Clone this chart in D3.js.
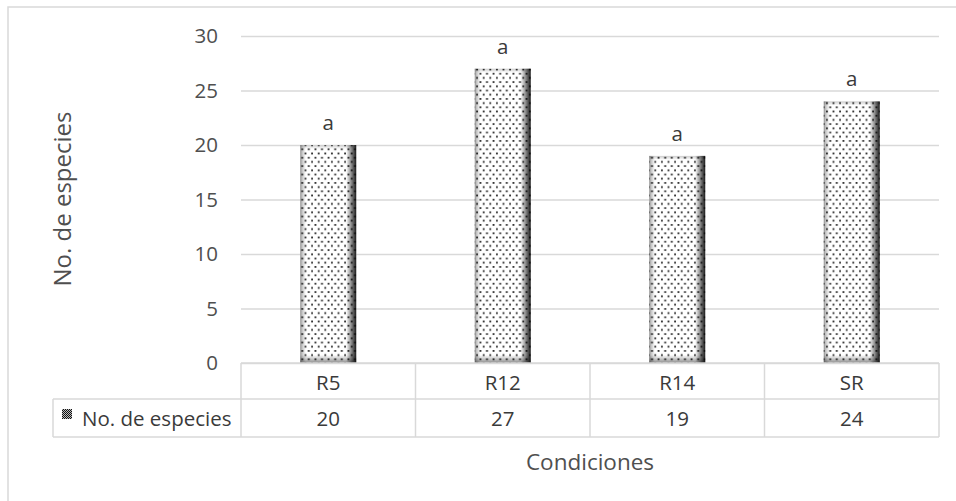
<!DOCTYPE html>
<html>
<head>
<meta charset="utf-8">
<script src="https://cdn.jsdelivr.net/npm/d3@7"></script>
<style>
  html, body { margin: 0; padding: 0; background: #fff; }
  svg { display: block; }
  text { font-family: "Open Sans", "Noto Sans", sans-serif; }
</style>
</head>
<body>
<svg id="chart" width="956" height="501"></svg>
<script>
// Species count per condition
const categories = ["R5", "R12", "R14", "SR"];
const speciesCounts = [20, 27, 19, 24];
const significance = ["a", "a", "a", "a"];
const yTicks = [0, 5, 10, 15, 20, 25, 30];
const seriesName = "No. de especies";
const yTitle = "No. de especies";
const xTitle = "Condiciones";

const svg = d3.select("#chart");
const W = 956, H = 501;
const plot = { left: 241, right: 939, top: 36, bottom: 363 };
const rowH1 = 36, rowH2 = 38;
const tableLeft = 53;
const gridColor = "#d9d9d9";
const labelSize = 20.5;

const x = d3.scaleBand().domain(categories).range([plot.left, plot.right]).paddingInner(0).paddingOuter(0);
const y = d3.scaleLinear().domain([0, 30]).range([plot.bottom, plot.top]);
const barW = 56;

// ---- defs: dotted fill, edge shading, legend swatch ----
const defs = svg.append("defs");
const pat = defs.append("pattern").attr("id", "dots")
  .attr("patternUnits", "userSpaceOnUse").attr("width", 6.6).attr("height", 8.4);
pat.append("rect").attr("width", 6.6).attr("height", 8.4).attr("fill", "#fff");
pat.append("rect").attr("x", 1).attr("y", 1.4).attr("width", 1.8).attr("height", 1.8).attr("fill", "#2a2a2a");
pat.append("rect").attr("x", 4.3).attr("y", 5.6).attr("width", 1.8).attr("height", 1.8).attr("fill", "#2a2a2a");

const hg = defs.append("linearGradient").attr("id", "edgeShade")
  .attr("x1", "0%").attr("x2", "100%").attr("y1", "0%").attr("y2", "0%");
[["0%", 0.45], ["3%", 0.25], ["10%", 0], ["82%", 0], ["92%", 0.5], ["100%", 0.9]].forEach(([o, a]) =>
  hg.append("stop").attr("offset", o).attr("stop-color", "#000").attr("stop-opacity", a));

const vg = defs.append("linearGradient").attr("id", "bottomShade")
  .attr("x1", "0%").attr("x2", "0%").attr("y1", "0%").attr("y2", "100%");
vg.append("stop").attr("offset", "0%").attr("stop-color", "#000").attr("stop-opacity", 0);
vg.append("stop").attr("offset", "100%").attr("stop-color", "#000").attr("stop-opacity", 0.45);

const tg = defs.append("linearGradient").attr("id", "topShade")
  .attr("x1", "0%").attr("x2", "0%").attr("y1", "0%").attr("y2", "100%");
tg.append("stop").attr("offset", "0%").attr("stop-color", "#000").attr("stop-opacity", 0.2);
tg.append("stop").attr("offset", "100%").attr("stop-color", "#000").attr("stop-opacity", 0);

const chk = defs.append("pattern").attr("id", "checker")
  .attr("patternUnits", "userSpaceOnUse").attr("width", 2).attr("height", 2);
chk.append("rect").attr("width", 2).attr("height", 2).attr("fill", "#bbb");
chk.append("rect").attr("width", 1).attr("height", 1).attr("fill", "#111");
chk.append("rect").attr("x", 1).attr("y", 1).attr("width", 1).attr("height", 1).attr("fill", "#111");

// ---- outer frame ----
svg.append("rect").attr("x", 8).attr("y", 7).attr("width", W + 20).attr("height", H + 20)
  .attr("fill", "#fff").attr("stroke", gridColor).attr("stroke-width", 1.5);

// ---- gridlines + y axis labels ----
const yAxis = d3.axisLeft(y).tickValues(yTicks).tickSize(-(plot.right - plot.left)).tickPadding(23).tickFormat(d3.format("d"));
const gy = svg.append("g").attr("transform", `translate(${plot.left},0)`).call(yAxis);
gy.select(".domain").remove();
gy.selectAll(".tick line").attr("stroke", gridColor).attr("stroke-width", 1.5);
gy.selectAll(".tick text").attr("fill", "#4f4f4f").attr("font-size", labelSize)
  .attr("font-family", "'Open Sans', sans-serif");

// ---- bars ----
const bars = svg.append("g");
categories.forEach((c, i) => {
  const v = speciesCounts[i];
  const bx = x(c) + x.bandwidth() / 2 - barW / 2;
  const by = y(v), bh = y(0) - y(v);
  bars.append("rect").attr("x", bx).attr("y", by).attr("width", barW).attr("height", bh).attr("fill", "url(#dots)");
  bars.append("rect").attr("x", bx).attr("y", by).attr("width", barW).attr("height", bh).attr("fill", "url(#edgeShade)");
  bars.append("rect").attr("x", bx).attr("y", by).attr("width", barW).attr("height", 4).attr("fill", "url(#topShade)");
  bars.append("rect").attr("x", bx).attr("y", y(0) - 8).attr("width", barW).attr("height", 8).attr("fill", "url(#bottomShade)");
  svg.append("text").attr("x", x(c) + x.bandwidth() / 2).attr("y", y(v) - 23)
    .attr("text-anchor", "middle").attr("dominant-baseline", "central")
    .attr("font-size", labelSize).attr("fill", "#3a3a3a").text(significance[i]);
});

// ---- data table ----
const tbl = svg.append("g").attr("stroke", gridColor).attr("stroke-width", 1.5).attr("fill", "none");
const r0 = plot.bottom, r1 = r0 + rowH1, r2 = r1 + rowH2;
tbl.append("line").attr("x1", plot.left).attr("x2", plot.right).attr("y1", r0).attr("y2", r0);
tbl.append("line").attr("x1", tableLeft).attr("x2", plot.right).attr("y1", r1).attr("y2", r1);
tbl.append("line").attr("x1", tableLeft).attr("x2", plot.right).attr("y1", r2).attr("y2", r2);
tbl.append("line").attr("x1", tableLeft).attr("x2", tableLeft).attr("y1", r1).attr("y2", r2);
const edges = categories.map(c => x(c)).concat([plot.right]);
edges.forEach(e => tbl.append("line").attr("x1", e).attr("x2", e).attr("y1", r0).attr("y2", r2));

categories.forEach((c, i) => {
  const cx = x(c) + x.bandwidth() / 2;
  svg.append("text").attr("x", cx).attr("y", (r0 + r1) / 2 + 1).attr("text-anchor", "middle")
    .attr("dominant-baseline", "central").attr("font-size", labelSize).attr("fill", "#3a3a3a").text(c);
  svg.append("text").attr("x", cx).attr("y", (r1 + r2) / 2).attr("text-anchor", "middle")
    .attr("dominant-baseline", "central").attr("font-size", labelSize).attr("fill", "#3a3a3a").text(speciesCounts[i]);
});

// legend key in the row header
svg.append("rect").attr("x", 62).attr("y", 409).attr("width", 10).attr("height", 10).attr("fill", "url(#checker)");
svg.append("text").attr("x", 82).attr("y", (r1 + r2) / 2).attr("dominant-baseline", "central")
  .attr("font-size", labelSize).attr("fill", "#3a3a3a").text(seriesName);

// ---- axis titles ----
svg.append("text").attr("transform", `translate(61,199) rotate(-90)`).attr("text-anchor", "middle")
  .attr("dominant-baseline", "central").attr("font-size", 24).attr("fill", "#4f4f4f").text(yTitle);
svg.append("text").attr("x", 590).attr("y", 461).attr("text-anchor", "middle")
  .attr("dominant-baseline", "central").attr("font-size", 22.5).attr("fill", "#4f4f4f").text(xTitle);
</script>
</body>
</html>
